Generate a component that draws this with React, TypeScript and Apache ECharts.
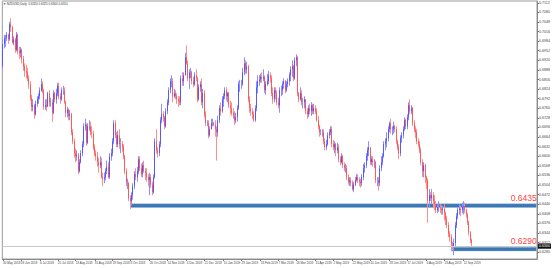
import React, { useEffect, useRef } from "react";
import * as echarts from "echarts";

const SYMBOL = "NZDUSD,Daily";
const START_DATE = "2018-05-30";
const FIRST_OPEN = 6900; // 1/10000
const RIGHT_SHIFT_BARS = 47;

// each trading day: [close, high, low] in 1/10000 (open = previous close)
const may2018 = [[6975, 6990, 6890], [6995, 7005, 6960]];
const jun2018 = [[6995, 7005, 6965], [7005, 7015, 6985], [6990, 7010, 6975], [7040, 7048, 6985], [7030, 7060, 7015], [6980, 7035, 6975], [6990, 7000, 6970], [6955, 6995, 6945], [7005, 7015, 6950], [6950, 7010, 6940], [6945, 6965, 6925], [6955, 6965, 6930], [6925, 6960, 6910], [6900, 6935, 6885], [6885, 6910, 6865], [6880, 6905, 6860], [6860, 6895, 6850], [6840, 6870, 6825], [6795, 6850, 6785], [6765, 6805, 6750], [6770, 6790, 6750]];
const jul2018 = [[6740, 6775, 6725], [6775, 6785, 6735], [6790, 6800, 6765], [6800, 6810, 6775], [6820, 6830, 6790], [6840, 6860, 6815], [6820, 6850, 6810], [6765, 6825, 6755], [6770, 6790, 6755], [6765, 6790, 6750], [6810, 6815, 6765], [6780, 6820, 6765], [6780, 6795, 6765], [6745, 6790, 6715], [6810, 6820, 6740], [6790, 6815, 6780], [6810, 6825, 6775], [6835, 6845, 6800], [6800, 6845, 6790], [6790, 6810, 6775], [6820, 6830, 6785], [6820, 6835, 6805]];
const aug2018 = [[6780, 6830, 6775], [6745, 6785, 6730], [6755, 6765, 6730], [6735, 6760, 6720], [6740, 6755, 6720], [6680, 6745, 6670], [6650, 6690, 6640], [6610, 6660, 6595], [6600, 6625, 6580], [6605, 6620, 6585], [6550, 6610, 6540], [6580, 6590, 6545], [6610, 6620, 6575], [6640, 6650, 6600], [6700, 6710, 6630], [6705, 6725, 6685], [6645, 6710, 6635], [6700, 6710, 6640], [6700, 6720, 6685], [6680, 6715, 6670], [6675, 6700, 6660], [6630, 6685, 6620], [6610, 6640, 6600]];
const sep2018 = [[6600, 6620, 6585], [6580, 6615, 6565], [6570, 6595, 6545], [6580, 6600, 6560], [6530, 6595, 6525], [6525, 6545, 6500], [6530, 6545, 6510], [6550, 6560, 6520], [6565, 6585, 6540], [6530, 6580, 6525], [6600, 6610, 6525], [6610, 6625, 6585], [6650, 6660, 6600], [6710, 6720, 6640], [6670, 6720, 6660], [6640, 6680, 6630], [6670, 6685, 6630], [6640, 6690, 6625], [6640, 6660, 6610], [6630, 6650, 6615]];
const oct2018 = [[6600, 6640, 6590], [6550, 6605, 6540], [6510, 6560, 6500], [6510, 6525, 6490], [6460, 6515, 6450], [6450, 6470, 6424], [6470, 6480, 6435], [6500, 6510, 6455], [6540, 6550, 6490], [6530, 6560, 6520], [6550, 6565, 6515], [6590, 6600, 6540], [6560, 6600, 6550], [6540, 6575, 6530], [6570, 6580, 6530], [6550, 6585, 6545], [6545, 6560, 6520], [6530, 6560, 6515], [6520, 6540, 6500], [6530, 6545, 6470], [6505, 6540, 6495], [6480, 6515, 6470], [6530, 6540, 6475]];
const nov2018 = [[6650, 6660, 6525], [6620, 6690, 6610], [6610, 6630, 6595], [6640, 6650, 6600], [6720, 6730, 6630], [6740, 6775, 6710], [6730, 6750, 6715], [6700, 6735, 6690], [6750, 6760, 6695], [6780, 6790, 6740], [6820, 6830, 6770], [6850, 6860, 6810], [6850, 6870, 6830], [6800, 6860, 6780], [6810, 6825, 6795], [6800, 6820, 6790], [6790, 6810, 6775], [6785, 6800, 6765], [6780, 6800, 6770], [6860, 6870, 6770], [6850, 6880, 6835], [6870, 6880, 6835]];
const dec2018 = [[6930, 6945, 6880], [6910, 6970, 6905], [6860, 6920, 6850], [6880, 6890, 6825], [6880, 6895, 6860], [6850, 6885, 6840], [6840, 6865, 6830], [6870, 6880, 6835], [6860, 6890, 6850], [6790, 6865, 6780], [6830, 6840, 6785], [6840, 6850, 6815], [6780, 6860, 6770], [6810, 6825, 6760], [6740, 6820, 6730], [6710, 6750, 6700], [6710, 6720, 6700], [6670, 6720, 6660], [6690, 6700, 6665], [6710, 6725, 6690], [6710, 6725, 6700]];
const jan2019 = [[6705, 6715, 6700], [6690, 6720, 6665], [6680, 6700, 6585], [6720, 6735, 6665], [6760, 6770, 6710], [6750, 6780, 6735], [6790, 6800, 6745], [6800, 6810, 6765], [6820, 6830, 6790], [6800, 6830, 6785], [6810, 6815, 6780], [6770, 6815, 6760], [6760, 6785, 6740], [6745, 6780, 6735], [6735, 6760, 6725], [6720, 6750, 6705], [6730, 6745, 6710], [6760, 6770, 6715], [6840, 6850, 6755], [6840, 6855, 6815], [6840, 6855, 6825], [6880, 6895, 6835], [6910, 6930, 6870]];
const feb2019 = [[6890, 6920, 6875], [6900, 6915, 6875], [6790, 6905, 6780], [6760, 6800, 6745], [6750, 6775, 6735], [6740, 6760, 6725], [6720, 6750, 6715], [6760, 6770, 6715], [6830, 6850, 6750], [6850, 6870, 6810], [6855, 6870, 6835], [6865, 6875, 6845], [6860, 6880, 6845], [6865, 6890, 6850], [6820, 6870, 6810], [6840, 6850, 6805], [6850, 6875, 6835], [6870, 6885, 6840], [6860, 6880, 6845], [6810, 6870, 6800]];
const mar2019 = [[6790, 6830, 6775], [6820, 6830, 6780], [6810, 6830, 6790], [6780, 6820, 6770], [6770, 6795, 6760], [6820, 6830, 6745], [6820, 6835, 6800], [6840, 6850, 6805], [6850, 6860, 6825], [6820, 6855, 6810], [6840, 6850, 6815], [6850, 6860, 6830], [6870, 6880, 6835], [6890, 6900, 6850], [6900, 6920, 6865], [6860, 6905, 6850], [6920, 6930, 6855], [6930, 6940, 6900], [6810, 6935, 6800], [6790, 6815, 6780], [6810, 6830, 6785]];
const apr2019 = [[6780, 6820, 6770], [6780, 6795, 6760], [6790, 6800, 6760], [6750, 6790, 6740], [6740, 6760, 6725], [6760, 6770, 6730], [6750, 6775, 6740], [6770, 6780, 6735], [6750, 6775, 6740], [6760, 6775, 6740], [6750, 6770, 6740], [6720, 6760, 6715], [6700, 6735, 6690], [6680, 6705, 6665], [6680, 6690, 6670], [6680, 6690, 6665], [6650, 6690, 6640], [6630, 6660, 6620], [6640, 6655, 6620], [6670, 6680, 6635], [6680, 6690, 6660], [6690, 6700, 6670]];
const may2019 = [[6640, 6700, 6630], [6630, 6655, 6620], [6640, 6650, 6610], [6620, 6645, 6600], [6630, 6645, 6610], [6590, 6640, 6580], [6580, 6600, 6570], [6600, 6610, 6575], [6570, 6605, 6560], [6560, 6580, 6550], [6560, 6575, 6545], [6530, 6570, 6520], [6515, 6540, 6505], [6520, 6530, 6500], [6510, 6530, 6500], [6490, 6520, 6485], [6505, 6515, 6480], [6520, 6530, 6500], [6530, 6540, 6515], [6520, 6540, 6510], [6515, 6530, 6500], [6510, 6525, 6495], [6530, 6540, 6500]];
const jun2019 = [[6560, 6575, 6520], [6570, 6580, 6545], [6600, 6610, 6560], [6620, 6630, 6585], [6630, 6650, 6600], [6580, 6630, 6570], [6590, 6600, 6570], [6580, 6600, 6565], [6580, 6590, 6560], [6520, 6585, 6510], [6520, 6530, 6500], [6510, 6530, 6485], [6560, 6570, 6500], [6580, 6600, 6550], [6600, 6610, 6570], [6640, 6650, 6595], [6650, 6660, 6620], [6660, 6680, 6630], [6690, 6700, 6650], [6710, 6715, 6680]];
const jul2019 = [[6690, 6725, 6675], [6690, 6700, 6670], [6700, 6715, 6675], [6690, 6705, 6680], [6650, 6700, 6640], [6630, 6655, 6620], [6610, 6640, 6590], [6660, 6670, 6600], [6670, 6680, 6645], [6690, 6700, 6660], [6720, 6730, 6685], [6700, 6725, 6690], [6730, 6740, 6690], [6770, 6780, 6720], [6750, 6790, 6740], [6760, 6770, 6740], [6710, 6765, 6700], [6690, 6720, 6680], [6680, 6700, 6660], [6650, 6690, 6640], [6640, 6660, 6630], [6620, 6650, 6610], [6580, 6630, 6570]];
const aug2019 = [[6550, 6590, 6530], [6570, 6580, 6530], [6530, 6575, 6510], [6520, 6535, 6490], [6450, 6525, 6378], [6470, 6490, 6430], [6460, 6480, 6450], [6470, 6490, 6440], [6450, 6480, 6430], [6440, 6470, 6420], [6420, 6450, 6410], [6430, 6440, 6410], [6430, 6450, 6415], [6425, 6440, 6410], [6420, 6435, 6405], [6425, 6435, 6405], [6410, 6440, 6385], [6390, 6415, 6370], [6370, 6400, 6360], [6340, 6380, 6330], [6330, 6350, 6315], [6305, 6340, 6295]];
const sep2019 = [[6300, 6315, 6285], [6310, 6325, 6270], [6370, 6380, 6300], [6400, 6410, 6360], [6420, 6430, 6390], [6425, 6440, 6405], [6420, 6435, 6400], [6430, 6445, 6410], [6435, 6450, 6405], [6420, 6445, 6410], [6405, 6425, 6395], [6380, 6410, 6370], [6345, 6385, 6335], [6320, 6350, 6310], [6310, 6325, 6300]];

const yTickValues = [0.628, 0.6312, 0.6344, 0.6376, 0.6408, 0.644, 0.6472, 0.6504, 0.6536, 0.6568, 0.66, 0.6632, 0.6664, 0.6696, 0.6728, 0.676, 0.6792, 0.6824, 0.6856, 0.6888, 0.692, 0.6952, 0.6984, 0.7016, 0.7048, 0.708, 0.7112];
const xTickLabels = ["30 May 2018", "18 Jun 2018", "6 Jul 2018", "25 Jul 2018", "13 Aug 2018", "31 Aug 2018", "19 Sep 2018", "8 Oct 2018", "26 Oct 2018", "14 Nov 2018", "4 Dec 2018", "21 Dec 2018", "10 Jan 2019", "29 Jan 2019", "18 Feb 2019", "7 Mar 2019", "26 Mar 2019", "15 Apr 2019", "2 May 2019", "22 May 2019", "10 Jun 2019", "28 Jun 2019", "17 Jul 2019", "6 Aug 2019", "23 Aug 2019", "12 Sep 2019"];
const levelValues = [0.6435, 0.629];
const levelStarts = ["8 Oct 2018", "30 Aug 2019"];

const MONTH_NAMES = ["Jan", "Feb", "Mar", "Apr", "May", "Jun", "Jul", "Aug", "Sep", "Oct", "Nov", "Dec"];

function tradingDays(start: string, count: number): string[] {
  const out: string[] = [];
  const d = new Date(start + "T00:00:00Z");
  while (out.length < count) {
    const wd = d.getUTCDay();
    if (wd !== 0 && wd !== 6) {
      out.push(`${d.getUTCDate()} ${MONTH_NAMES[d.getUTCMonth()]} ${d.getUTCFullYear()}`);
    }
    d.setUTCDate(d.getUTCDate() + 1);
  }
  return out;
}

export default function App() {
  const ref = useRef<HTMLDivElement>(null);
  useEffect(() => {
    document.body.style.margin = "0";
    const chart = echarts.init(ref.current!, null, { renderer: "svg" });
    const months = [may2018, jun2018, jul2018, aug2018, sep2018, oct2018, nov2018, dec2018, jan2019, feb2019, mar2019, apr2019, may2019, jun2019, jul2019, aug2019, sep2019];
    const bars: number[][] = ([] as number[][]).concat(...months);
    let prev = FIRST_OPEN;
    const candles = bars.map(([c, h, l]) => {
      const o = prev;
      prev = c;
      return [o / 1e4, c / 1e4, Math.min(l, o, c) / 1e4, Math.max(h, o, c) / 1e4];
    });
    const bodies = candles.map(([o, c]) => [o, c, Math.min(o, c), Math.max(o, c)]);
    const dates = tradingDays(START_DATE, candles.length);
    const blanks: string[] = [];
    for (let i = 0; i < RIGHT_SHIFT_BARS; i++) blanks.push("#" + i);
    const categories = dates.concat(blanks);
    const lastIdx = categories.length - 1;
    const last = candles[candles.length - 1];
    const fmt = (v: number) => v.toFixed(4);
    const showTick = (_i: number, v: string) => xTickLabels.indexOf(v) >= 0;
    const half = 0.00062;

    chart.setOption({
      animation: false,
      backgroundColor: "#ffffff",
      textStyle: { fontFamily: "Liberation Sans" },
      title: {
        text: `\u25BC ${SYMBOL}  ${fmt(last[0])} ${fmt(last[3])} ${fmt(last[2])} ${fmt(last[1])}`,
        left: 3,
        top: 2,
        padding: 0,
        textStyle: { fontSize: 3, fontWeight: "normal", color: "#333", fontFamily: "Liberation Sans" },
      },
      grid: { left: 1, right: 15, top: 1, bottom: 9, show: true, borderColor: "#9a9a9a", borderWidth: 1 },
      xAxis: {
        type: "category",
        data: categories,
        boundaryGap: true,
        axisLine: { show: true, lineStyle: { color: "#8a8a8a" } },
        axisTick: { show: true, alignWithLabel: true, interval: showTick, length: 2, lineStyle: { color: "#777" } },
        axisLabel: { interval: showTick, fontSize: 3, color: "#444", align: "left", margin: 2.5 },
        splitLine: { show: false },
      },
      yAxis: {
        type: "value",
        position: "right",
        min: 0.6257,
        max: 0.7118,
        scale: true,
        axisLine: { show: true, lineStyle: { color: "#8a8a8a" } },
        axisTick: { show: true, length: 2, customValues: yTickValues, lineStyle: { color: "#777" } },
        axisLabel: { fontSize: 3.6, color: "#444", margin: 2, customValues: yTickValues, formatter: (v: number) => fmt(v) },
        splitLine: { show: false },
      },
      series: [
        {
          type: "candlestick",
          name: "wicks",
          data: candles,
          barWidth: 0.4,
          silent: true,
          itemStyle: {
            color: "#9c9cff",
            color0: "#ff9c9c",
            borderColor: "#8e8eff",
            borderColor0: "#ff8e8e",
            borderWidth: 1,
          },
          markArea: {
            silent: true,
            itemStyle: { color: "#3a77b4", borderColor: "#8db3da", borderWidth: 0.8, borderType: "dotted" },
            label: {
              show: true,
              position: ["100%", -1],
              align: "right",
              verticalAlign: "bottom",
              color: "#ff4343",
              fontSize: 8.5,
              fontFamily: "Liberation Sans",
              formatter: "{b}",
            },
            data: levelValues.map((v, k) => [
              { name: fmt(v), xAxis: levelStarts[k], yAxis: v + half },
              { xAxis: lastIdx, yAxis: v - half },
            ]),
          },
        },
        {
          type: "candlestick",
          name: "bodies",
          data: bodies,
          barWidth: 1.3,
          silent: true,
          itemStyle: {
            color: "#2222ff",
            color0: "#ff2222",
            borderColor: "#2222ff",
            borderColor0: "#ff2222",
            borderWidth: 0.5,
          },
          markLine: {
            silent: true,
            symbol: ["none", "none"],
            lineStyle: { color: "#c6ccc6", width: 1, type: "solid" },
            label: {
              position: "end",
              distance: 1,
              formatter: (p: any) => fmt(Number(p.value)),
              backgroundColor: "#111",
              color: "#fff",
              fontSize: 3.6,
              padding: [0.6, 1],
            },
            data: [{ yAxis: last[1] }],
          },
        },
      ],
    });
    return () => chart.dispose();
  }, []);
  return <div ref={ref} style={{ position: "absolute", left: 0, top: 0, width: 553, height: 268 }} />;
}
